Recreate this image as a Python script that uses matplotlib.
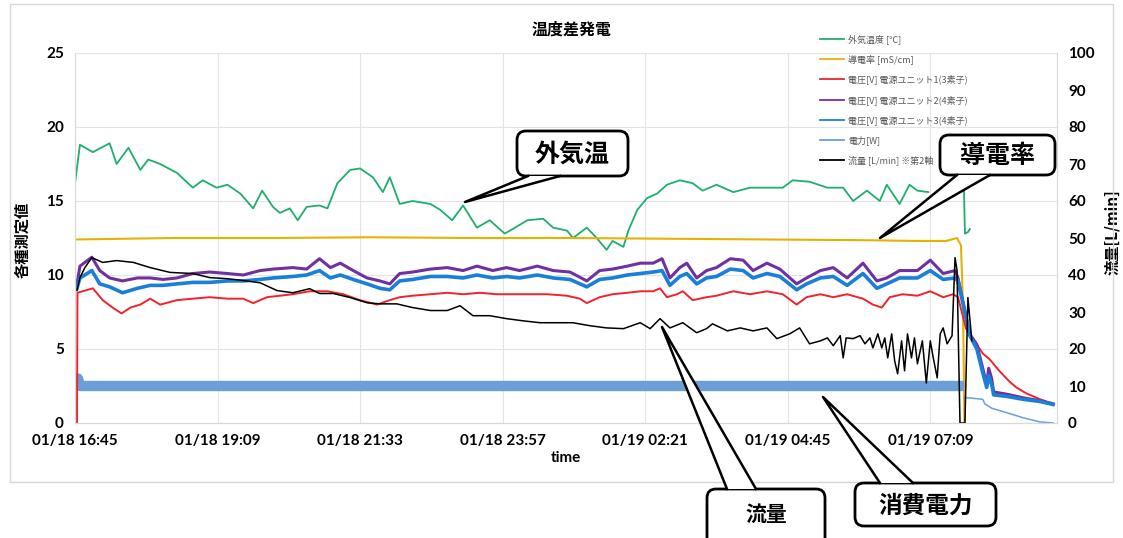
import matplotlib
matplotlib.use("Agg")
import matplotlib.pyplot as plt
from matplotlib.patches import FancyBboxPatch, Polygon, Rectangle
from matplotlib.lines import Line2D
import numpy as np

plt.rcParams['font.family'] = ['Noto Sans CJK JP', 'DejaVu Sans']

# time axis: minutes after 01/18 16:45
tick_pos = [0, 144, 288, 432, 576, 720, 864]
tick_labels = ["01/18 16:45", "01/18 19:09", "01/18 21:33", "01/18 23:57",
               "01/19 02:21", "01/19 04:45", "01/19 07:09"]

labels = ["外気温度 [℃]", "導電率 [mS/cm]", "電圧[V] 電源ユニット1(3素子)",
          "電圧[V] 電源ユニット2(4素子)", "電圧[V] 電源ユニット3(4素子)",
          "電力[W]", "流量 [L/min] ※第2軸"]

# outside temperature
temp_t = [0, 5, 18, 35, 42, 54, 66, 74, 86, 103, 119, 129, 143, 154, 167, 180, 189,
          200, 207, 217, 225, 234, 247, 255, 265, 278, 288, 301, 311, 318, 328, 341,
          359, 369, 381, 392, 406, 419, 434, 442, 457, 473, 483, 497, 503, 517, 527,
          537, 543, 554, 559, 568, 578, 588, 598, 611, 624, 634, 648, 665, 682, 699,
          715, 725, 742, 760, 776, 786, 800, 813, 820, 833, 843, 851, 862, 880,
          898, 899, 902, 904]
temp_v = [16.2, 18.8, 18.3, 18.9, 17.5, 18.6, 17.1, 17.8, 17.5, 16.9, 15.9, 16.4, 15.9,
          16.1, 15.5, 14.5, 15.7, 14.6, 14.2, 14.5, 13.7, 14.6, 14.7, 14.5, 16.2, 17.1,
          17.2, 16.6, 15.6, 16.6, 14.8, 15.0, 14.8, 14.4, 13.7, 14.7, 13.2, 13.7, 12.8,
          13.1, 13.7, 13.8, 13.2, 13.0, 12.5, 13.2, 12.5, 11.7, 12.3, 11.9, 13.0, 14.4,
          15.2, 15.5, 16.1, 16.4, 16.2, 15.7, 16.1, 15.6, 15.9, 15.9, 15.9, 16.4, 16.3,
          15.9, 15.9, 15.0, 15.7, 15.0, 16.1, 14.8, 16.1, 15.7, 15.6, np.nan,
          15.7, 12.8, 12.9, 13.1]

# conductivity
cond_t = [0, 100, 200, 300, 400, 500, 600, 700, 800, 850, 880, 891, 895, 897, 898.5]
cond_v = [12.4, 12.5, 12.5, 12.55, 12.5, 12.5, 12.45, 12.4, 12.35, 12.3, 12.3, 12.5,
          12.0, 8.0, 0.0]

# voltage unit 1
u1_t = [0, 2, 2.5, 18, 28, 38, 47, 56, 66, 76, 86, 103, 119, 136, 154, 170, 180, 194,
        207, 220, 237, 255, 271, 288, 305, 318, 328, 341, 359, 376, 392, 409, 426, 442,
        460, 477, 497, 510, 517, 530, 543, 558, 571, 584, 591, 598, 608, 614, 624, 638,
        648, 665, 682, 699, 715, 729, 739, 753, 766, 780, 796, 806, 815, 823, 836, 851,
        864, 877, 887, 892, 900, 906, 917, 924, 934, 944, 951, 961, 975, 988]
u1_v = [0, 0, 8.8, 9.1, 8.3, 7.8, 7.4, 7.8, 8.0, 8.4, 8.0, 8.3, 8.4, 8.5, 8.4, 8.4, 8.1,
        8.5, 8.6, 8.7, 8.9, 8.9, 8.7, 8.3, 8.0, 8.3, 8.5, 8.6, 8.7, 8.8, 8.7, 8.8, 8.7,
        8.7, 8.7, 8.7, 8.6, 8.4, 8.1, 8.5, 8.7, 8.8, 8.9, 8.9, 9.1, 8.5, 8.7, 8.9, 8.3,
        8.5, 8.6, 8.9, 8.7, 8.9, 8.7, 8.0, 8.5, 8.7, 8.5, 8.7, 8.4, 8.0, 7.8, 8.5, 8.7,
        8.6, 8.9, 8.5, 8.7, 8.5, 6.4, 5.8, 4.7, 4.3, 3.5, 2.8, 2.4, 2.0, 1.6, 1.3]

# voltage units 2 and 3
u23_t = [2, 5, 17, 25, 35, 48, 63, 76, 89, 103, 119, 136, 154, 170, 187, 200, 220, 234,
         247, 258, 268, 281, 295, 308, 318, 328, 341, 359, 376, 392, 406, 422, 436, 449,
         467, 483, 500, 517, 530, 543, 558, 571, 584, 593, 601, 611, 618, 628, 638, 648,
         662, 675, 685, 699, 712, 729, 739, 753, 766, 780, 796, 810, 820, 833, 851, 864,
         877, 889, 892, 904, 911, 917, 921, 923, 926, 928, 941, 958, 975, 988]
u2_v = [9.4, 10.6, 11.2, 10.3, 9.8, 9.6, 9.8, 9.8, 9.7, 9.8, 10.1, 10.2, 10.1, 10.0,
        10.3, 10.4, 10.5, 10.4, 11.1, 10.5, 10.8, 10.3, 9.8, 9.6, 9.4, 10.1, 10.2, 10.4,
        10.5, 10.3, 10.6, 10.3, 10.5, 10.3, 10.6, 10.3, 10.2, 9.6, 10.3, 10.4, 10.6, 10.8,
        10.8, 11.1, 9.8, 10.5, 10.8, 9.8, 10.3, 10.5, 11.1, 11.0, 10.3, 10.8, 10.4, 9.4,
        9.8, 10.3, 10.5, 9.8, 10.8, 9.6, 9.8, 10.3, 10.3, 11.0, 10.1, 10.3, 9.8, 6.0,
        5.3, 3.7, 2.6, 3.7, 3.0, 2.1, 1.95, 1.7, 1.5, 1.3]
u3_v = [9.1, 9.8, 10.3, 9.4, 9.2, 8.8, 9.1, 9.3, 9.3, 9.4, 9.5, 9.5, 9.6, 9.6, 9.7,
        9.8, 9.9, 10.0, 10.3, 9.8, 10.0, 9.7, 9.4, 9.1, 9.0, 9.6, 9.7, 9.9, 9.9, 9.8,
        10.0, 9.8, 9.9, 9.8, 10.0, 9.8, 9.7, 9.2, 9.7, 9.8, 10.0, 10.1, 10.2, 10.3, 9.3,
        9.9, 10.1, 9.4, 9.8, 9.9, 10.4, 10.3, 9.8, 10.1, 9.9, 9.0, 9.4, 9.8, 9.9, 9.3,
        10.1, 9.1, 9.4, 9.8, 9.8, 10.3, 9.7, 9.8, 9.6, 5.9, 5.0, 3.4, 2.4, 3.2, 2.6,
        1.9, 1.8, 1.6, 1.45, 1.25]

# power
power_t = [2, 3, 5, 100, 300, 500, 700, 898]
power_v = [2.5, 3.0, 2.5, 2.5, 2.5, 2.5, 2.5, 2.5]
power_tail_t = [898, 903, 917, 919, 926, 941, 958, 975, 988]
power_tail_v = [1.7, 1.7, 1.6, 1.3, 1.0, 0.7, 0.35, 0.07, 0.0]

# flow (second axis)
flow_t = [2, 5, 10, 17, 28, 42, 59, 76, 96, 119, 136, 154, 170, 187, 204, 220, 237,
          247, 261, 278, 295, 308, 325, 341, 359, 376, 389, 402, 419, 436, 453, 470, 487,
          503, 520, 537, 554, 571, 581, 591, 601, 614, 628, 638, 644, 659, 672, 685, 699,
          709, 722, 732, 742, 753, 760, 766, 773, 776, 779, 786, 793, 798, 803, 806, 811,
          815, 818, 821, 825, 828, 831, 835, 838, 841, 845, 848, 851, 856, 860, 864, 867,
          871, 874, 877, 881, 886, 889, 891, 894, 899, 902, 906]
flow_v = [35.8, 39.3, 42.0, 44.7, 43.4, 43.9, 43.4, 42.0, 40.7, 40.4, 39.3, 39.0, 38.5,
          37.9, 35.8, 35.2, 36.3, 35.0, 35.0, 33.9, 32.5, 32.2, 32.2, 31.2, 30.4, 30.4,
          31.7, 29.0, 29.0, 28.2, 27.6, 27.1, 27.1, 27.1, 26.3, 25.7, 25.5, 27.1, 25.5,
          28.2, 25.7, 27.1, 24.4, 25.5, 26.8, 24.9, 25.7, 24.9, 25.7, 22.8, 24.1, 25.7,
          21.4, 22.2, 23.0, 20.9, 23.6, 17.6, 23.0, 22.8, 23.6, 21.4, 23.0, 20.3, 24.1,
          20.3, 23.0, 17.6, 24.1, 16.8, 13.3, 22.2, 14.1, 24.1, 17.6, 23.0, 16.0, 22.2,
          10.8, 22.2, 17.6, 12.2, 24.1, 25.7, 21.4, 23.6, 44.7, 41.2, 0.0, 0.0, 33.9, 22.2]

W, H = 1123, 538
fig = plt.figure(figsize=(W / 100, H / 100), dpi=100)
L, R, T, B = 75, 1057, 53, 423
ax = fig.add_axes([L / W, 1 - B / H, (R - L) / W, (B - T) / H])
ax2 = ax.twinx()

colors = ["#1fae6b", "#e8b100", "#f0232b", "#7030a0", "#1a7fd6", "#6a9fd8", "black"]
c_temp, c_cond, c_u1, c_u2, c_u3, c_pw, c_flow = colors

ax.plot(temp_t, temp_v, color=c_temp, lw=1.3)
ax.plot(cond_t, cond_v, color=c_cond, lw=1.5)
ax.plot(power_t, power_v, color=c_pw, lw=7.5, solid_capstyle="butt")
ax.plot(power_tail_t, power_tail_v, color=c_pw, lw=1.1)
ax.plot(u1_t, u1_v, color=c_u1, lw=1.4)
ax.plot(u23_t, u2_v, color=c_u2, lw=2.2)
ax.plot(u23_t, u3_v, color=c_u3, lw=2.6)
ax2.plot(flow_t, flow_v, color=c_flow, lw=1.1)

ax.set_xlim(0, 992)
ax.set_ylim(0, 25)
ax2.set_ylim(0, 100)
ax.set_xticks(tick_pos)
ax.set_xticklabels(tick_labels)
ax.set_yticks(range(0, 26, 5))
ax2.set_yticks(range(0, 101, 10))
ax.grid(True, color="#e3e3e3", lw=0.8)
ax.set_axisbelow(True)
for a in (ax, ax2):
    a.tick_params(length=0, labelsize=11, pad=8)
    for lab in a.get_xticklabels() + a.get_yticklabels():
        lab.set_fontfamily("Lato")
        lab.set_fontweight("bold")
    for s in a.spines.values():
        s.set_color("#d9d9d9")
    a.spines["top"].set_visible(False)

ax.set_xlabel("time", fontsize=11, fontweight="bold", family="Lato", labelpad=2)
fig.text(22 / W, 1 - 240 / H, "各種測定値", rotation=90, fontsize=11, fontweight="bold",
         ha="center", va="center")
fig.text(1112 / W, 1 - 232 / H, "流量[L/min]", rotation=90, fontsize=11, fontweight="bold",
         ha="center", va="center")
fig.text(572 / W, 1 - 30 / H, "温度差発電", fontsize=11.5, fontweight="bold",
         ha="center", va="center")

handles = [Line2D([], [], color=c, lw=1.3) for c in colors]
fig.legend(handles, labels, loc="upper left",
           bbox_to_anchor=(812 / W, 1 - 26 / H), frameon=False, fontsize=6.5,
           labelcolor="#595959", handlelength=2.6, labelspacing=1.15, handletextpad=0.5)

# callout overlay in pixel coordinates
ov = fig.add_axes([0, 0, 1, 1], zorder=10)
ov.set_xlim(0, W)
ov.set_ylim(H, 0)
ov.axis("off")
ov.patch.set_alpha(0)
ov.add_patch(Rectangle((10, 4), 1103, 478, fill=False, ec="#d6d6d6", lw=1))


def callout(x0, y0, x1, y1, text, size, b1, b2, tip, top=False, ty=None):
    ov.add_patch(FancyBboxPatch((x0, y0), x1 - x0, y1 - y0,
                                boxstyle="round,pad=0,rounding_size=9",
                                fc="white", ec="black", lw=2, clip_on=False))
    yb = y0 if top else y1
    ov.add_patch(Polygon([(b1, yb), tip, (b2, yb)], closed=True, fc="white", ec="none",
                         clip_on=False))
    ov.plot([b1, tip[0], b2], [yb, tip[1], yb], color="black", lw=1.8, clip_on=False)
    if ty is None:
        ty = (y0 + y1) / 2 + 1
    ov.text((x0 + x1) / 2, ty, text, fontsize=size, fontweight="bold",
            ha="center", va="center")


callout(517, 131, 628, 176, "外気温", 18, 528, 560, (465, 202))
callout(940, 135, 1055, 175, "導電率", 18, 957, 990, (880, 238))
callout(707, 489, 825, 548, "流量", 15, 727, 756, (662, 327), top=True, ty=514)
callout(855, 483, 996, 526, "消費電力", 17, 880, 913, (823, 397), top=True)

fig.savefig("out.png", dpi=100)
